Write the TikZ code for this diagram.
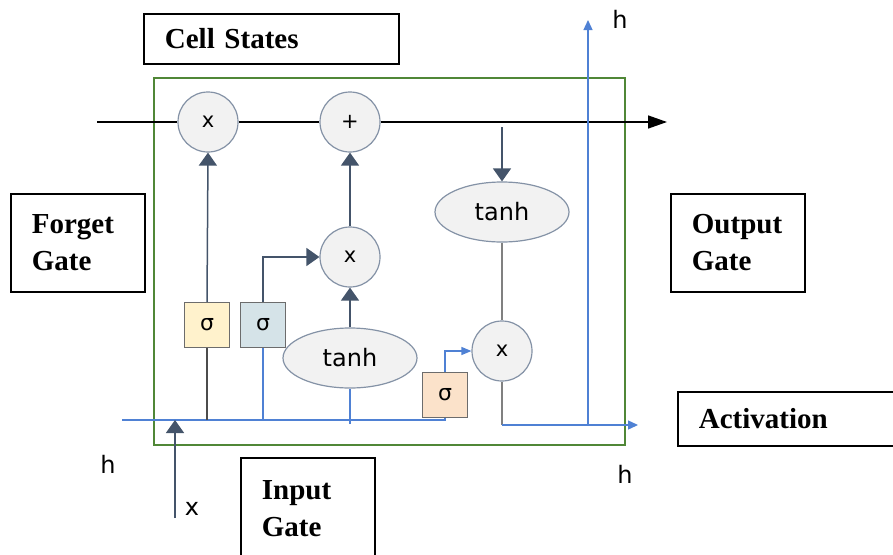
\documentclass[tikz,border=0pt]{standalone}
\usepackage{fontspec}
\setmainfont{Liberation Serif}
\newfontfamily\diagfont{DejaVu Sans}
\usepackage{tikz}
\usetikzlibrary{arrows.meta,shapes.geometric}
\definecolor{cadre}{RGB}{80,135,55}
\definecolor{ardoise}{RGB}{68,84,106}
\definecolor{bleuflux}{RGB}{79,129,212}
\definecolor{fondgris}{RGB}{242,242,242}
\definecolor{bordgris}{RGB}{132,146,166}
\definecolor{sigjaune}{RGB}{255,242,204}
\definecolor{sigbleu}{RGB}{213,227,232}
\definecolor{sigorange}{RGB}{251,226,202}

\begin{document}
\begin{tikzpicture}[x=1pt, y=-1pt,
  etiquette/.style={draw, line width=1.8pt, anchor=north west, align=left,
    font=\fontsize{29}{37}\selectfont\bfseries, inner xsep=21pt, inner ysep=0pt},
  operation/.style={circle, draw=bordgris, fill=fondgris, line width=1.2pt,
    minimum size=60pt, inner sep=0pt, font=\fontsize{21}{23}\selectfont\diagfont},
  activ/.style={ellipse, draw=bordgris, fill=fondgris, line width=1.2pt,
    minimum width=134pt, minimum height=60pt, inner sep=0pt,
    font=\fontsize{24}{26}\selectfont\diagfont},
  sigmoide/.style={rectangle, draw=gray!85!black, line width=1.2pt,
    minimum size=45pt, inner sep=0pt, font=\fontsize{22}{24}\selectfont\diagfont},
  signal/.style={font=\fontsize{24}{26}\selectfont\diagfont, inner sep=0pt},
  ligne/.style={draw=ardoise, line width=1.5pt},
  fleche/.style={ligne, -{Triangle[width=18pt,length=13pt]}},
  bleu/.style={draw=bleuflux, line width=1.3pt},
  flechebleue/.style={bleu, -{Triangle[width=9pt,length=10pt]}}
]

\useasboundingbox (0,0) rectangle (893,554);
\clip (0,0) rectangle (893,554);

% Cadre de la cellule
\draw[cadre, line width=2.4pt] (154,78) rectangle (625,445);

% Etiquettes
\node[etiquette, text width=213pt, minimum height=50pt] (cs) at (143,13) {Cell States};
\node[etiquette, text width=92pt, minimum height=98pt] (fg) at (10,193) {Forget\\Gate};
\node[etiquette, text width=92pt, minimum height=98pt] (og) at (670,193) {Output\\Gate};
\node[etiquette, text width=260pt, minimum height=54pt] (ac) at (677,391) {Activation};
\node[etiquette, text width=92pt, minimum height=102pt] (ig) at (240,457) {Input\\Gate};

% Operations
\node[operation] (mulF) at (208,122) {x};
\node[operation] (plus) at (350,122) {+};
\node[operation] (mulI) at (350,257) {x};
\node[operation] (mulO) at (502,351) {x};
\node[activ] (tanhI) at (350,358) {tanh};
\node[activ] (tanhO) at (502,212) {tanh};
\node[sigmoide, fill=sigjaune] (sigF) at (207,325) {σ};
\node[sigmoide, fill=sigbleu] (sigI) at (263,325) {σ};
\node[sigmoide, fill=sigorange] (sigO) at (445,395) {σ};

% Signaux
\node[signal] (hhaut) at (620,19) {h};
\node[signal] (hbas) at (625,474) {h};
\node[signal] (hgauche) at (108,464) {h};
\node[signal] (xin) at (192,509) {x};

% Points libres
\coordinate (entreeC) at (97,122);
\coordinate (sortieC) at (667,122);
\coordinate (entreeH) at (122,420);
\coordinate (entreeX) at (175,518);
\coordinate (sortieH) at (638,425);
\coordinate (haut) at (588,20);
\coordinate (prise) at (502,127);
\coordinate (basT) at (350,424);

% Etat de la cellule
\draw[black, line width=1.5pt] (entreeC) -- (mulF.west);
\draw[black, line width=1.5pt] (mulF.east) -- (plus.west);
\draw[black, line width=1.5pt, -{Triangle[width=13pt,length=19pt]}] (plus.east) -- (sortieC);

% Entree h et x
\draw[bleu] (entreeH) -- (entreeH -| sigO.south) -- (sigO.south);
\draw[fleche] (entreeX) -- (entreeX |- entreeH);

% Porte d'oubli
\draw[ligne, draw=black!70] (sigF.south |- entreeH) -- (sigF.south);
\draw[fleche] (sigF.north) -- (mulF.south);

% Porte d'entree
\draw[bleu] (sigI.south |- entreeH) -- (sigI.south);
\draw[fleche] (sigI.north) -- (sigI.north |- mulI.west) -- (mulI.west);
\draw[bleu] (basT) -- (tanhI.south);
\draw[fleche] (tanhI.north) -- (mulI.south);
\draw[fleche] (mulI.north) -- (plus.south);

% Porte de sortie
\draw[fleche] (prise) -- (tanhO.north);
\draw[ligne, draw=gray] (tanhO.south) -- (mulO.north);
\draw[flechebleue, -{Triangle[width=8pt,length=10pt]}] (sigO.north) -- (sigO.north |- mulO.west) -- (mulO.west);
\draw[ligne, draw=gray] (mulO.south) -- (mulO.south |- sortieH);
\draw[flechebleue] (mulO.south |- sortieH) -- (sortieH);
\draw[flechebleue] (haut |- sortieH) -- (haut);

\end{tikzpicture}
\end{document}
